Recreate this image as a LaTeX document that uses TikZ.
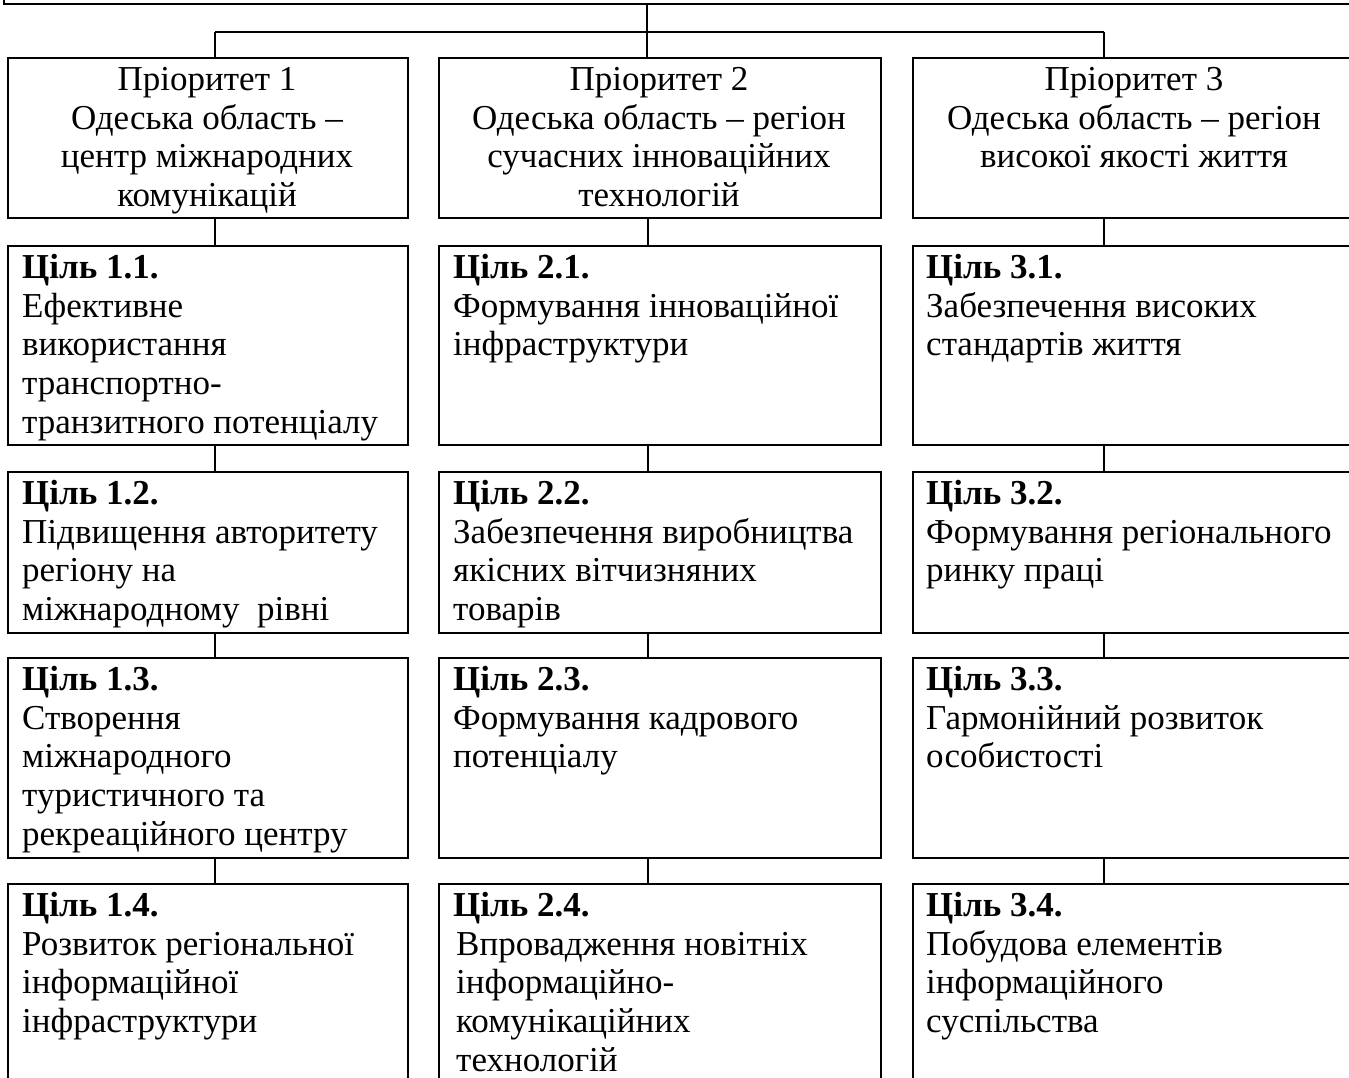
\documentclass[tikz,border=0pt]{standalone}
\usepackage{fontspec}
\setmainfont{Liberation Serif}
\usetikzlibrary{calc}
\begin{document}
\begin{tikzpicture}[x=1pt,y=-1pt,
  box/.style={draw, line width=1.9pt, rectangle, inner sep=0pt, anchor=north west},
  ptext/.style={inner sep=0pt, anchor=north, align=center, font=\fontsize{35}{38.8}\selectfont},
  gtext/.style={inner sep=0pt, anchor=north west, align=left, font=\fontsize{35}{38.8}\selectfont},
  link/.style={line width=1.6pt},
  barline/.style={line width=2.8pt}]
\useasboundingbox (0,0) rectangle (1349,1078);
\clip (0,0) rectangle (1349,1078);
\fill[white] (0,0) rectangle (1349,1078);

% top (cut-off) box
\node[box, anchor=south west, minimum width=1400pt, minimum height=106pt] (top) at (3,5) {};

% priority boxes
\node[box, minimum width=400pt, minimum height=160pt] (p1) at (7,57) {};
\node[box, minimum width=442pt, minimum height=160pt] (p2) at (438,57) {};
\node[box, minimum width=444pt, minimum height=160pt] (p3) at (912,57) {};

% goal boxes, column 1
\node[box, minimum width=400pt, minimum height=199pt] (g11) at (7,245) {};
\node[box, minimum width=400pt, minimum height=161pt] (g12) at (7,471) {};
\node[box, minimum width=400pt, minimum height=200pt] (g13) at (7,657) {};
\node[box, minimum width=400pt, minimum height=220pt] (g14) at (7,883) {};
% column 2
\node[box, minimum width=442pt, minimum height=199pt] (g21) at (438,245) {};
\node[box, minimum width=442pt, minimum height=161pt] (g22) at (438,471) {};
\node[box, minimum width=442pt, minimum height=200pt] (g23) at (438,657) {};
\node[box, minimum width=442pt, minimum height=220pt] (g24) at (438,883) {};
% column 3
\node[box, minimum width=444pt, minimum height=199pt] (g31) at (912,245) {};
\node[box, minimum width=444pt, minimum height=161pt] (g32) at (912,471) {};
\node[box, minimum width=444pt, minimum height=200pt] (g33) at (912,657) {};
\node[box, minimum width=444pt, minimum height=220pt] (g34) at (912,883) {};

% connector coordinates
\coordinate (c1) at (215,0);
\coordinate (c2) at (648,0);
\coordinate (c3) at (1104,0);
\coordinate (barL) at (215,32);
\coordinate (barM) at (647,32);
\coordinate (barR) at (1104,32);

\draw[link] (top.south -| barM) -- (barM);
\draw[barline] (barL) -- (barR);
\draw[link] (barL) -- (p1.north -| barL);
\draw[link] (barM) -- (p2.north -| barM);
\draw[link] (barR) -- (p3.north -| barR);

\draw[link] (p1.south -| c1) -- (g11.north -| c1);
\draw[link] (g11.south -| c1) -- (g12.north -| c1);
\draw[link] (g12.south -| c1) -- (g13.north -| c1);
\draw[link] (g13.south -| c1) -- (g14.north -| c1);
\draw[link] (p2.south -| c2) -- (g21.north -| c2);
\draw[link] (g21.south -| c2) -- (g22.north -| c2);
\draw[link] (g22.south -| c2) -- (g23.north -| c2);
\draw[link] (g23.south -| c2) -- (g24.north -| c2);
\draw[link] (p3.south -| c3) -- (g31.north -| c3);
\draw[link] (g31.south -| c3) -- (g32.north -| c3);
\draw[link] (g32.south -| c3) -- (g33.north -| c3);
\draw[link] (g33.south -| c3) -- (g34.north -| c3);

% priority texts
\node[ptext] (pt1) at (207,63) {\strut Пріоритет 1\\Одеська область –\\центр міжнародних\\комунікацій};
\node[ptext] (pt2) at (659,63) {\strut Пріоритет 2\\Одеська область – регіон\\сучасних інноваційних\\технологій};
\node[ptext] (pt3) at (1134,63) {\strut Пріоритет 3\\Одеська область – регіон\\високої якості життя};

% goal texts
\node[gtext] (t11) at (22,251) {\strut\textbf{Ціль 1.1.}\\Ефективне\\використання\\транспортно-\\транзитного потенціалу};
\node[gtext] (t12) at (22,477) {\strut\textbf{Ціль 1.2.}\\Підвищення авторитету\\регіону на\\міжнародному\ \ рівні};
\node[gtext] (t13) at (22,663) {\strut\textbf{Ціль 1.3.}\\Створення\\міжнародного\\туристичного та\\рекреаційного центру};
\node[gtext] (t14) at (22,889) {\strut\textbf{Ціль 1.4.}\\Розвиток регіональної\\інформаційної\\інфраструктури};

\node[gtext] (t21) at (453,251) {\strut\textbf{Ціль 2.1.}\\Формування інноваційної\\інфраструктури};
\node[gtext] (t22) at (453,477) {\strut\textbf{Ціль 2.2.}\\Забезпечення виробництва\\якісних вітчизняних\\товарів};
\node[gtext] (t23) at (453,663) {\strut\textbf{Ціль 2.3.}\\Формування кадрового\\потенціалу};
\node[gtext] (t24) at (453,889) {\strut\textbf{Ціль 2.4.}\\\hspace{3pt}Впровадження новітніх\\\hspace{3pt}інформаційно-\\\hspace{3pt}комунікаційних\\\hspace{3pt}технологій};

\node[gtext] (t31) at (926,251) {\strut\textbf{Ціль 3.1.}\\Забезпечення високих\\стандартів життя};
\node[gtext] (t32) at (926,477) {\strut\textbf{Ціль 3.2.}\\Формування регіонального\\ринку праці};
\node[gtext] (t33) at (926,663) {\strut\textbf{Ціль 3.3.}\\Гармонійний розвиток\\особистості};
\node[gtext] (t34) at (926,889) {\strut\textbf{Ціль 3.4.}\\Побудова елементів\\інформаційного\\суспільства};
\end{tikzpicture}
\end{document}
